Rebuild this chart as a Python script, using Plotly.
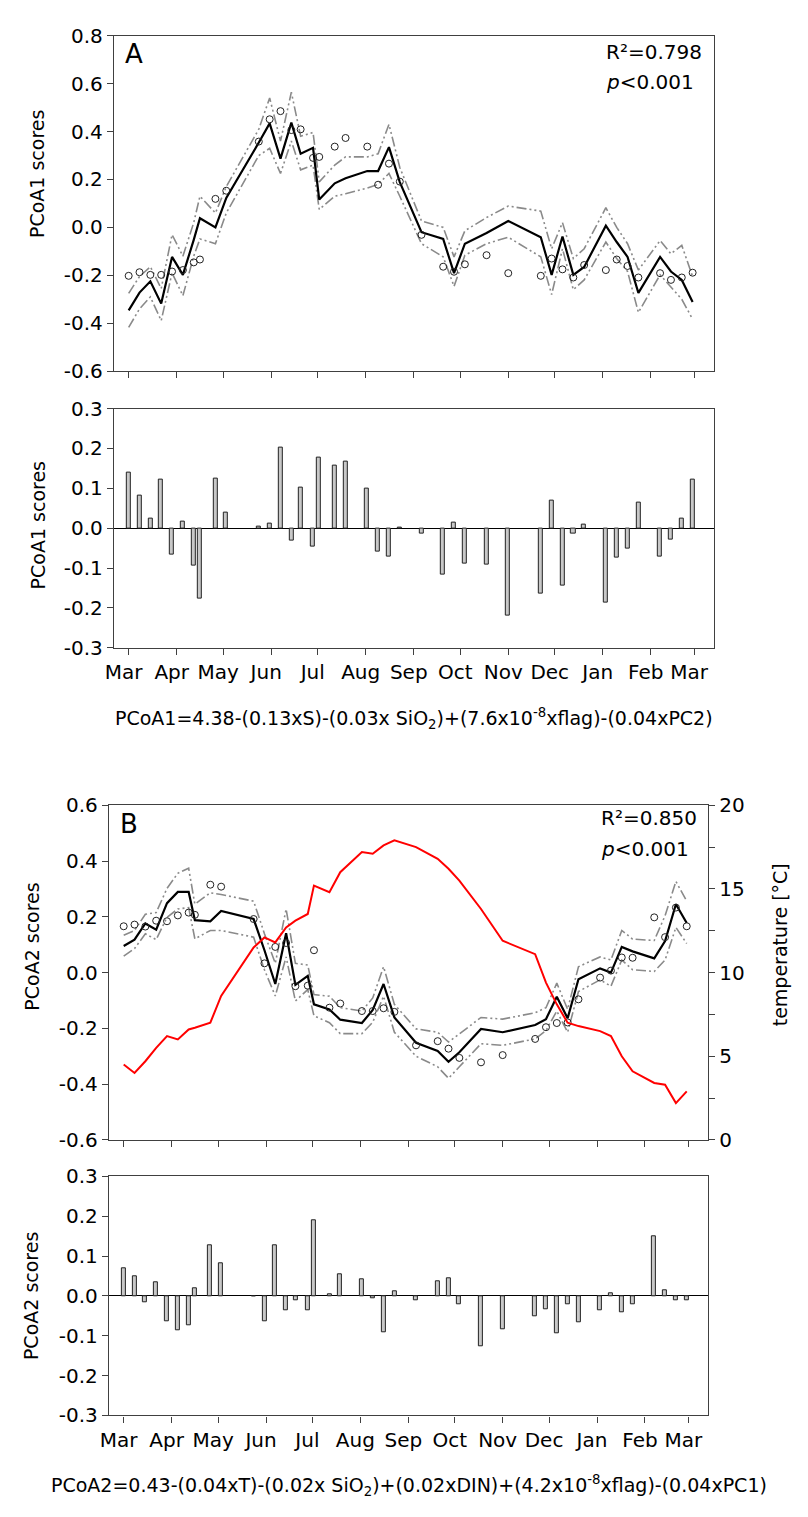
import plotly.graph_objects as go

# ---------------- data ----------------
dates = ["2010-03-01", "2010-03-08", "2010-03-15", "2010-03-22", "2010-03-29", "2010-04-05",
         "2010-04-12", "2010-04-16", "2010-04-26", "2010-05-03", "2010-05-24", "2010-05-31",
         "2010-06-07", "2010-06-14", "2010-06-20", "2010-06-28", "2010-07-02", "2010-07-12",
         "2010-07-19", "2010-08-02", "2010-08-09", "2010-08-16", "2010-08-23", "2010-09-06",
         "2010-09-20", "2010-09-27", "2010-10-04", "2010-10-18", "2010-11-01", "2010-11-22",
         "2010-11-29", "2010-12-06", "2010-12-13", "2010-12-20", "2011-01-03", "2011-01-10",
         "2011-01-17", "2011-01-24", "2011-02-07", "2011-02-14", "2011-02-21", "2011-02-28"]

a_obs = [-0.202, -0.187, -0.198, -0.198, -0.184, -0.178, -0.146, -0.134, 0.119, 0.153, 0.358, 0.451,
         0.485, 0.406, 0.409, 0.290, 0.294, 0.337, 0.373, 0.337, 0.178, 0.266, 0.191, -0.031,
         -0.164, -0.185, -0.154, -0.116, -0.191, -0.202, -0.130, -0.175, -0.209, -0.157, -0.178, -0.134,
         -0.161, -0.209, -0.191, -0.219, -0.209, -0.189]
a_fit = [-0.346, -0.272, -0.225, -0.318, -0.123, -0.198, -0.052, 0.038, 0.000, 0.123, 0.354, 0.434,
         0.287, 0.437, 0.307, 0.332, 0.116, 0.184, 0.205, 0.235, 0.235, 0.335, 0.189, -0.020,
         -0.048, -0.191, -0.068, -0.023, 0.027, -0.041, -0.198, -0.038, -0.198, -0.165, 0.007, -0.061,
         -0.123, -0.273, -0.123, -0.184, -0.219, -0.311]
a_up = [-0.275, -0.205, -0.164, -0.255, -0.030, -0.120, 0.020, 0.130, 0.060, 0.170, 0.410, 0.540,
        0.360, 0.564, 0.380, 0.396, 0.190, 0.260, 0.294, 0.294, 0.307, 0.430, 0.250, 0.027,
        0.000, -0.123, -0.014, 0.041, 0.089, 0.068, -0.089, 0.020, -0.130, -0.089, 0.082, 0.000,
        -0.068, -0.178, -0.055, -0.110, -0.075, -0.205]
a_lo = [-0.417, -0.340, -0.290, -0.389, -0.190, -0.285, -0.120, -0.048, -0.068, 0.060, 0.300, 0.330,
        0.225, 0.360, 0.240, 0.260, 0.075, 0.130, 0.140, 0.164, 0.180, 0.225, 0.130, -0.068,
        -0.123, -0.246, -0.116, -0.068, -0.041, -0.123, -0.280, -0.089, -0.260, -0.219, -0.061, -0.130,
        -0.184, -0.355, -0.198, -0.250, -0.300, -0.383]
a_res = [0.140, 0.082, 0.024, 0.121, -0.067, 0.017, -0.095, -0.177, 0.125, 0.038, 0.004, 0.012,
         0.201, -0.031, 0.102, -0.045, 0.178, 0.156, 0.166, 0.099, -0.059, -0.072, 0.002, -0.014,
         -0.117, 0.013, -0.088, -0.092, -0.219, -0.163, 0.068, -0.143, -0.014, 0.008, -0.187, -0.074,
         -0.050, 0.065, -0.072, -0.029, 0.024, 0.121]

b_obs = [0.166, 0.172, 0.165, 0.186, 0.184, 0.205, 0.215, 0.207, 0.315, 0.308, 0.192, 0.033,
         0.092, 0.106, -0.049, -0.047, 0.080, -0.126, -0.111, -0.138, -0.138, -0.128, -0.141, -0.261,
         -0.246, -0.273, -0.306, -0.322, -0.296, -0.238, -0.196, -0.181, -0.179, -0.096, -0.018, 0.007,
         0.054, 0.053, 0.198, 0.127, 0.233, 0.166]
b_fit = [0.095, 0.118, 0.176, 0.154, 0.249, 0.289, 0.289, 0.188, 0.184, 0.221, 0.192, 0.080,
         -0.041, 0.141, -0.044, -0.012, -0.114, -0.132, -0.169, -0.181, -0.134, -0.041, -0.161, -0.252,
         -0.281, -0.320, -0.286, -0.202, -0.214, -0.188, -0.167, -0.087, -0.164, -0.024, 0.015, 0.000,
         0.092, 0.076, 0.051, 0.113, 0.245, 0.178]
b_up = [0.134, 0.151, 0.209, 0.215, 0.302, 0.356, 0.374, 0.245, 0.286, 0.280, 0.256, 0.139,
        0.033, 0.228, 0.033, 0.027, -0.079, -0.085, -0.126, -0.138, -0.091, 0.021, -0.114, -0.202,
        -0.214, -0.249, -0.220, -0.161, -0.167, -0.144, -0.126, -0.038, -0.132, 0.021, 0.056, 0.045,
        0.151, 0.120, 0.115, 0.204, 0.327, 0.256]
b_lo = [0.059, 0.086, 0.139, 0.118, 0.198, 0.228, 0.233, 0.121, 0.151, 0.151, 0.127, 0.010,
        -0.084, 0.056, -0.102, -0.061, -0.155, -0.180, -0.219, -0.219, -0.178, -0.085, -0.214, -0.300,
        -0.338, -0.379, -0.338, -0.255, -0.261, -0.238, -0.208, -0.138, -0.214, -0.068, -0.026, -0.049,
        0.045, 0.010, 0.004, 0.045, 0.162, 0.104]
b_res = [0.069, 0.049, -0.016, 0.035, -0.065, -0.087, -0.074, 0.020, 0.128, 0.081, 0.000, -0.063,
         0.128, -0.035, -0.010, -0.035, 0.189, 0.004, 0.053, 0.041, -0.006, -0.091, 0.012, -0.012,
         0.036, 0.045, -0.020, -0.126, -0.085, -0.052, -0.033, -0.095, -0.020, -0.067, -0.035, 0.006,
         -0.040, -0.022, 0.150, 0.014, -0.012, -0.012]
temperature = [4.5, 4.0, 4.7, 5.5, 6.2, 6.0, 6.6, 6.7, 7.0, 8.6, 11.5, 12.1,
               11.8, 12.7, 13.1, 13.5, 15.2, 14.8, 16.0, 17.2, 17.1, 17.6, 17.9, 17.5,
               16.8, 16.2, 15.5, 13.8, 11.9, 11.1, 9.4, 8.1, 7.0, 6.8, 6.5, 6.2,
               5.0, 4.1, 3.4, 3.3, 2.2, 2.9]

month_ticks = ["2010-03-01", "2010-04-01", "2010-05-01", "2010-06-01", "2010-07-01", "2010-08-01",
               "2010-09-01", "2010-10-01", "2010-11-01", "2010-12-01", "2011-01-01", "2011-02-01",
               "2011-03-01"]
month_labels = ["Mar", "Apr", "May", "Jun", "Jul", "Aug", "Sep", "Oct", "Nov", "Dec", "Jan", "Feb", "Mar"]

ya_top_ticks = [-0.6, -0.4, -0.2, 0.0, 0.2, 0.4, 0.6, 0.8]
yb_top_ticks = [-0.6, -0.4, -0.2, 0.0, 0.2, 0.4, 0.6]
res_ticks = [-0.3, -0.2, -0.1, 0.0, 0.1, 0.2, 0.3]
temp_ticks = [0, 5, 10, 15, 20]

# ---------------- figure ----------------
W, H = 808, 1517
FONT = "DejaVu Sans"
AXC = "#404040"
BAND = dict(color="#8a8a8a", width=1.6, dash="10px,3px,2px,3px,2px,3px")

fig = go.Figure()

def px_x(a, b):
    return [a / W, b / W]

def px_y(top, bottom):
    return [1 - bottom / H, 1 - top / H]

xrange_ = ["2010-02-19 10:00", "2011-03-13 20:00"]

def add_line_panel(obs, fit, up, lo, xa, ya):
    fig.add_trace(go.Scatter(x=dates, y=up, mode="lines", line=BAND, xaxis=xa, yaxis=ya, showlegend=False))
    fig.add_trace(go.Scatter(x=dates, y=lo, mode="lines", line=BAND, xaxis=xa, yaxis=ya, showlegend=False))
    fig.add_trace(go.Scatter(x=dates, y=fit, mode="lines", line=dict(color="black", width=2.2),
                             xaxis=xa, yaxis=ya, showlegend=False))
    fig.add_trace(go.Scatter(x=dates, y=obs, mode="markers",
                             marker=dict(symbol="circle-open", size=7, color="#222",
                                         line=dict(width=1, color="#222")),
                             xaxis=xa, yaxis=ya, showlegend=False))

def add_bar_panel(res, xa, ya):
    fig.add_trace(go.Bar(x=dates, y=res, width=2.6 * 86400000,
                         marker=dict(color="#c8c8c8", line=dict(color="#222", width=1)),
                         xaxis=xa, yaxis=ya, showlegend=False))

# Panel A
add_line_panel(a_obs, a_fit, a_up, a_lo, "x", "y")
add_bar_panel(a_res, "x2", "y2")
# Panel B
fig.add_trace(go.Scatter(x=dates, y=temperature, mode="lines", line=dict(color="#ff0000", width=2),
                         xaxis="x3", yaxis="y5", showlegend=False))
add_line_panel(b_obs, b_fit, b_up, b_lo, "x3", "y3")
add_bar_panel(b_res, "x4", "y4")

tickfont = dict(family=FONT, size=20, color="black")

def xaxis(dom, anchor, labels):
    return dict(domain=dom, anchor=anchor, type="date", range=xrange_,
                tickvals=month_ticks, ticktext=month_labels, showticklabels=labels,
                ticks="outside", ticklen=6, tickwidth=1, tickcolor=AXC,
                showline=True, linecolor=AXC, linewidth=1.2, mirror=True,
                showgrid=False, zeroline=False, tickfont=tickfont, ticklabelshift=-5)

def yaxis(dom, anchor, rng, vals, zl=False):
    return dict(domain=dom, anchor=anchor, range=rng,
                tickvals=vals, ticktext=["%.1f" % v for v in vals],
                ticks="outside", ticklen=6, tickwidth=1, tickcolor=AXC,
                showline=True, linecolor=AXC, linewidth=1.2, mirror=True,
                showgrid=False, zeroline=zl, zerolinecolor="black", zerolinewidth=1.2,
                tickfont=tickfont)

xa_dom = px_x(106, 713)
xb_dom = px_x(101, 707)

fig.update_layout(
    width=W, height=H, margin=dict(l=0, r=0, t=0, b=0),
    paper_bgcolor="white", plot_bgcolor="white",
    font=dict(family=FONT, size=20, color="black"),
    bargap=0,
    xaxis=xaxis(xa_dom, "y", False),
    yaxis=yaxis(px_y(24, 365), "x", [-0.6, 0.8], ya_top_ticks),
    xaxis2=xaxis(xa_dom, "y2", True),
    yaxis2=yaxis(px_y(403, 646), "x2", [-0.3, 0.3], res_ticks, zl=True),
    xaxis3=xaxis(xb_dom, "y3", False),
    yaxis3=yaxis(px_y(806, 1146), "x3", [-0.6, 0.6], yb_top_ticks),
    xaxis4=xaxis(xb_dom, "y4", True),
    yaxis4=yaxis(px_y(1183, 1426), "x4", [-0.3, 0.3], res_ticks, zl=True),
    yaxis5=dict(overlaying="y3", anchor="x3", side="right", range=[0, 20],
                tickvals=temp_ticks, ticktext=[str(v) for v in temp_ticks],
                ticks="outside", ticklen=6, tickwidth=1, tickcolor=AXC,
                minor=dict(dtick=2.5, tick0=0, ticks="outside", ticklen=6, tickwidth=1,
                           tickcolor=AXC, showgrid=False),
                showline=True, linecolor=AXC, linewidth=1.2,
                showgrid=False, zeroline=False, tickfont=tickfont),
)

ann = []
def txt(x, y, s, size=20, angle=0, xanchor="center", yanchor="middle"):
    ann.append(dict(x=x / W, y=1 - y / H, xref="paper", yref="paper", text=s, showarrow=False,
                    textangle=angle, xanchor=xanchor, yanchor=yanchor,
                    font=dict(family=FONT, size=size, color="black")))

# axis titles
txt(29, 165, "PCoA1 scores", 19, -90)
txt(29, 522, "PCoA1 scores", 19, -90)
txt(23, 950, "PCoA2 scores", 19, -90)
txt(23, 1305, "PCoA2 scores", 19, -90)
txt(780, 948, "temperature [°C]", 19, -90)

# panel labels and stats
txt(115, 43, "A", 26, xanchor="left")
txt(602, 41, "R²=0.798", 20, xanchor="left")
txt(602, 71, "<i>p</i><0.001", 20, xanchor="left")
txt(110, 825, "B", 26, xanchor="left")
txt(597, 819, "R²=0.850", 20, xanchor="left")
txt(597, 850, "<i>p</i><0.001", 20, xanchor="left")

# equations
txt(410, 718, "PCoA1=4.38-(0.13xS)-(0.03x SiO<sub>2</sub>)+(7.6x10<sup>-8</sup>xflag)-(0.04xPC2)", 19)
txt(405, 1497, "PCoA2=0.43-(0.04xT)-(0.02x SiO<sub>2</sub>)+(0.02xDIN)+(4.2x10<sup>-8</sup>xflag)-(0.04xPC1)", 19)

fig.update_layout(annotations=ann)
fig.write_html("out.html")
